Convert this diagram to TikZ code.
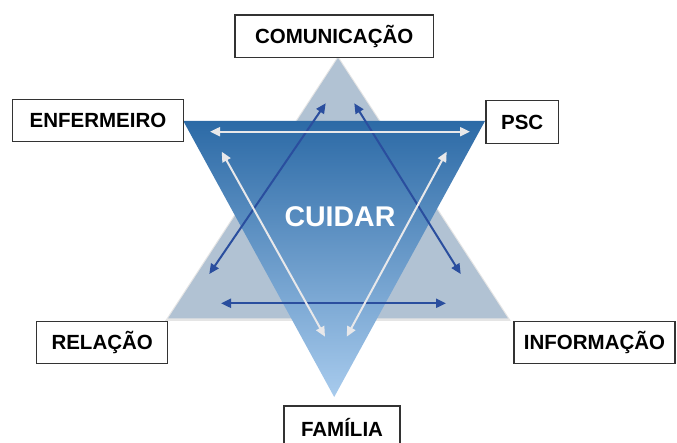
\documentclass[tikz,border=0pt]{standalone}
\usepackage{fontspec}
\setmainfont{Liberation Sans}
\usetikzlibrary{arrows.meta,shadows,calc}
\definecolor{uptri}{RGB}{177,194,211}
\definecolor{downtop}{RGB}{44,106,166}
\definecolor{downbot}{RGB}{168,203,237}
\definecolor{darkarrow}{RGB}{42,78,158}
\definecolor{lightarrow}{RGB}{232,232,234}
\tikzset{
  labelbox/.style={draw=black!80, line width=1.3pt, fill=white, inner sep=0pt,
    font=\fontsize{20.5}{24}\selectfont\bfseries, text=black},
  darkarr/.style={draw=darkarrow, line width=2pt, {Triangle[length=10pt,width=9pt]}-{Triangle[length=10pt,width=9pt]}},
  lightarr/.style={draw=lightarrow, line width=2pt, {Triangle[length=10pt,width=9pt]}-{Triangle[length=10pt,width=9pt]}},
}
\begin{document}
\begin{tikzpicture}[x=1pt,y=-1pt]
\useasboundingbox (0,0) rectangle (677,443);
% upward triangle (behind)
\coordinate (ua) at (338,58);
\coordinate (ul) at (168,318.5);
\coordinate (ur) at (508,318.5);
\fill[black, opacity=0.10] ($(ua)+(0,-2)$) -- ($(ul)+(-3,2.5)$) -- ($(ur)+(3,2.5)$) -- cycle;
\fill[uptri] (ua) -- (ul) -- (ur) -- cycle;
% downward triangle
\coordinate (dl) at (183.3,121);
\coordinate (dr) at (485,121);
\coordinate (da) at (334.2,397);
\shade[top color=downtop, bottom color=downbot] (dl) -- (dr) -- (da) -- cycle;
% center text
\node[font=\fontsize{28.5}{32}\selectfont\bfseries, text=white] (cuidar) at (340,216.5) {CUIDAR};
% arrow end points
\coordinate (w1a) at (210,131.7);
\coordinate (w1b) at (470,131.7);
\coordinate (w2a) at (221.7,151.7);
\coordinate (w2b) at (325,336.7);
\coordinate (w3a) at (446.7,151.7);
\coordinate (w3b) at (346.7,336.7);
\coordinate (d1a) at (325.7,103.3);
\coordinate (d1b) at (209.3,274);
\coordinate (d2a) at (354.3,103.3);
\coordinate (d2b) at (460.7,274);
\coordinate (d3a) at (221,303.3);
\coordinate (d3b) at (446,303.3);
\draw[darkarr] (d1a) -- (d1b);
\draw[darkarr] (d2a) -- (d2b);
\draw[darkarr] (d3a) -- (d3b);
\draw[lightarr] (w1a) -- (w1b);
\draw[lightarr] (w2a) -- (w2b);
\draw[lightarr] (w3a) -- (w3b);
% label boxes
\node[labelbox, minimum width=198.3pt, minimum height=42.3pt] (com) at (334.2,36.2) {COMUNICAÇÃO};
\node[labelbox, minimum width=170.6pt, minimum height=42.4pt] (enf) at (98,120.5) {ENFERMEIRO};
\node[labelbox, minimum width=72.3pt, minimum height=42.6pt] (psc) at (522.2,122) {PSC};
\node[labelbox, minimum width=131pt, minimum height=41.6pt] (rel) at (102.2,342.5) {RELAÇÃO};
\node[labelbox, minimum width=161pt, minimum height=41.6pt] (inf) at (594.5,342.5) {INFORMAÇÃO};
\node[labelbox, minimum width=116pt, minimum height=42pt] (fam) at (342,427) {FAMÍLIA};
\end{tikzpicture}
\end{document}
